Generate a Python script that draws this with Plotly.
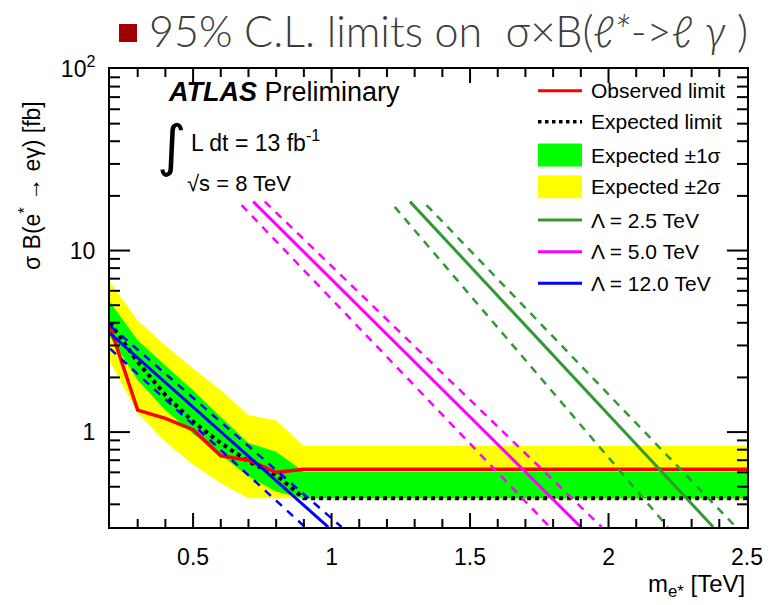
import math
import plotly.graph_objects as go

# ---------------- data ----------------
mass = [0.2, 0.3, 0.4, 0.5, 0.6, 0.7, 0.8, 0.9, 1.0, 1.5, 2.0, 2.5]
observed = [3.8, 1.32, 1.19, 1.03, 0.74, 0.70, 0.60, 0.624, 0.624, 0.624, 0.624, 0.624]
expected = [4.0, 2.43, 1.60, 1.14, 0.87, 0.69, 0.58, 0.432, 0.432, 0.432, 0.432, 0.432]
exp_1s_up = [5.2, 3.2, 2.33, 1.70, 1.21, 0.87, 0.78, 0.605, 0.605, 0.605, 0.605, 0.605]
exp_1s_dn = [3.35, 1.93, 1.32, 0.98, 0.75, 0.57, 0.47, 0.43, 0.43, 0.43, 0.43, 0.43]
exp_2s_up = [6.7, 4.12, 3.0, 2.24, 1.70, 1.24, 1.16, 0.84, 0.84, 0.84, 0.84, 0.84]
exp_2s_dn = [2.44, 1.27, 0.885, 0.66, 0.523, 0.432, 0.43, 0.428, 0.428, 0.428, 0.428, 0.428]

# theory curves: sigma*B vs mass (start / end points)
lam25_mass = [1.283, 2.378]
lam25_xs = [18.6, 0.30]
lam25_lo_mass = [1.228, 2.214]
lam25_lo_xs = [17.4, 0.30]
lam25_hi_mass = [1.343, 2.46]
lam25_hi_xs = [17.8, 0.30]

lam50_mass = [0.717, 1.90]
lam50_xs = [18.6, 0.30]
lam50_lo_mass = [0.675, 1.788]
lam50_lo_xs = [17.8, 0.30]
lam50_hi_mass = [0.759, 1.975]
lam50_hi_xs = [18.6, 0.30]

lam120_mass = [0.2, 0.988]
lam120_xs = [3.5, 0.30]
lam120_lo_mass = [0.2, 0.904]
lam120_lo_xs = [2.88, 0.30]
lam120_hi_mass = [0.2, 1.036]
lam120_hi_xs = [3.86, 0.30]

x_ticks = [0.5, 1, 1.5, 2, 2.5]
x_ticktext = ["0.5", "1", "1.5", "2", "2.5"]
y_ticks = [1, 10, 100]
y_ticktext = ["1", "10", "10<sup>2</sup>"]

legend_labels = ["Observed limit", "Expected limit", "Expected \u00b11\u03c3",
                 "Expected \u00b12\u03c3", "\u039b = 2.5 TeV", "\u039b = 5.0 TeV",
                 "\u039b = 12.0 TeV"]

# ---------------- style ----------------
RED = "#ff0000"
GREEN_BAND = "#00ff00"
YELLOW_BAND = "#ffff00"
DKGREEN = "#339933"
MAGENTA = "#ff00ff"
BLUE = "#0000ff"
FONT = "Liberation Sans, Arial, Helvetica, sans-serif"

W, H = 778, 605
L, R, T, B = 110, 31, 69, 78
PW, PH = W - L - R, H - T - B
XMIN, XMAX = 0.2, 2.5
YMIN, YMAX = math.log10(0.3), 2.0


def px(x):
    return (x - L) / PW


def py(y):
    return (H - B - y) / PH


fig = go.Figure()

# bands
fig.add_trace(go.Scatter(x=mass + mass[::-1], y=exp_2s_up + exp_2s_dn[::-1],
                         fill="toself", fillcolor=YELLOW_BAND, line=dict(width=0),
                         mode="lines", hoverinfo="skip"))
fig.add_trace(go.Scatter(x=mass + mass[::-1], y=exp_1s_up + exp_1s_dn[::-1],
                         fill="toself", fillcolor=GREEN_BAND, line=dict(width=0),
                         mode="lines", hoverinfo="skip"))

# expected / observed
fig.add_trace(go.Scatter(x=mass, y=expected, mode="lines",
                         line=dict(color="black", width=4, dash="4px,4px")))
fig.add_trace(go.Scatter(x=mass, y=observed, mode="lines",
                         line=dict(color=RED, width=3.5)))

# theory curves
for m, s, c, d, w in [
    (lam25_lo_mass, lam25_lo_xs, DKGREEN, "8px,7px", 2.5),
    (lam25_hi_mass, lam25_hi_xs, DKGREEN, "8px,7px", 2.5),
    (lam25_mass, lam25_xs, DKGREEN, "solid", 3),
    (lam50_lo_mass, lam50_lo_xs, MAGENTA, "8px,7px", 2.5),
    (lam50_hi_mass, lam50_hi_xs, MAGENTA, "8px,7px", 2.5),
    (lam50_mass, lam50_xs, MAGENTA, "solid", 3),
    (lam120_lo_mass, lam120_lo_xs, BLUE, "8px,7px", 2.5),
    (lam120_hi_mass, lam120_hi_xs, BLUE, "8px,7px", 2.5),
    (lam120_mass, lam120_xs, BLUE, "solid", 3),
]:
    fig.add_trace(go.Scatter(x=m, y=s, mode="lines",
                             line=dict(color=c, width=w, dash=d)))

# ---- axis tick marks (inside, on all four sides), derived from axis ranges ----
tx, ty = [], []
for i in range(3, 25):
    v = i / 10.0
    frac = (14 if i % 5 == 0 else 8) / PH * (YMAX - YMIN)
    tx += [v, v, None, v, v, None]
    ty += [10 ** YMIN, 10 ** (YMIN + frac), None, 10 ** YMAX, 10 ** (YMAX - frac), None]
for dec in (0.1, 1, 10):
    for k in range(1, 10):
        v = k * dec
        lv = math.log10(v)
        if lv <= YMIN + 1e-6 or lv >= YMAX - 1e-6:
            continue
        frac = (20 if k == 1 else 10) / PW * (XMAX - XMIN)
        tx += [XMIN, XMIN + frac, None, XMAX, XMAX - frac, None]
        ty += [v, v, None, v, v, None]
fig.add_trace(go.Scatter(x=tx, y=ty, mode="lines", hoverinfo="skip",
                         line=dict(color="black", width=2), connectgaps=False))

fig.update_layout(
    width=W, height=H,
    margin=dict(l=L, r=R, t=T, b=B),
    plot_bgcolor="white", paper_bgcolor="white",
    showlegend=False,
    font=dict(family=FONT, color="black"),
)

fig.update_xaxes(
    range=[XMIN, XMAX], tickvals=x_ticks, ticktext=x_ticktext, ticks="",
    showline=True, linewidth=2, linecolor="black", mirror=True,
    showgrid=False, zeroline=False,
    tickfont=dict(size=23, family=FONT, color="black"),
    ticklabelstandoff=8,
)
fig.update_yaxes(
    type="log", range=[YMIN, YMAX], tickvals=y_ticks, ticktext=y_ticktext, ticks="",
    showline=True, linewidth=2, linecolor="black", mirror=True,
    showgrid=False, zeroline=False,
    tickfont=dict(size=23, family=FONT, color="black"),
    ticklabelstandoff=8,
)

ann = []
shapes = []

# title
shapes.append(dict(type="rect", xref="paper", yref="paper",
                   x0=px(119), x1=px(137), y0=py(42), y1=py(24),
                   fillcolor="#a00000", line=dict(width=0)))
ann.append(dict(xref="paper", yref="paper", x=px(147), y=py(31),
                xanchor="left", yanchor="middle", showarrow=False,
                text="95% C.L. limits on  \u03c3\u00d7B(<i>\u2113*</i>->\u2113 <i>\u03b3</i> )",
                font=dict(size=43, family="Lato, Open Sans, sans-serif",
                          color="#3c3c3c", weight=300)))

# axis titles
ann.append(dict(xref="paper", yref="paper", x=px(30), y=py(186),
                xanchor="center", yanchor="middle", showarrow=False, textangle=-90,
                text="\u03c3 B(e<sup>*</sup> \u2192 e\u03b3) [fb]",
                font=dict(size=23, family=FONT)))
ann.append(dict(xref="paper", yref="paper", x=px(747), y=py(585),
                xanchor="right", yanchor="middle", showarrow=False,
                text="m<sub>e*</sub> [TeV]",
                font=dict(size=24, family=FONT)))

# ATLAS label
ann.append(dict(xref="paper", yref="paper", x=px(166), y=py(92),
                xanchor="left", yanchor="middle", showarrow=False,
                text="<b><i>ATLAS</i></b> Preliminary",
                font=dict(size=27, family=FONT)))
ann.append(dict(xref="paper", yref="paper", x=px(171), y=py(145),
                xanchor="center", yanchor="middle", showarrow=False,
                text="\u222b", font=dict(size=56, family="DejaVu Sans")))
ann.append(dict(xref="paper", yref="paper", x=px(189), y=py(141),
                xanchor="left", yanchor="middle", showarrow=False,
                text="L dt = 13 fb<sup>-1</sup>", font=dict(size=23, family=FONT)))
ann.append(dict(xref="paper", yref="paper", x=px(185), y=py(183),
                xanchor="left", yanchor="middle", showarrow=False,
                text="\u221as = 8 TeV", font=dict(size=22, family=FONT)))

# legend (drawn by hand)
leg_y = [90.7, 121.7, 155, 186.7, 220, 251.7, 283.3]
leg_style = [("line", RED, "solid"), ("line", "black", "dot"),
             ("box", GREEN_BAND, None), ("box", YELLOW_BAND, None),
             ("line", DKGREEN, "solid"), ("line", MAGENTA, "solid"),
             ("line", BLUE, "solid")]
for yy, lab, (kind, col, dsh) in zip(leg_y, legend_labels, leg_style):
    if kind == "line":
        shapes.append(dict(type="line", xref="paper", yref="paper",
                           x0=px(538), x1=px(582), y0=py(yy), y1=py(yy),
                           line=dict(color=col, width=3.5 if dsh == "dot" else 3,
                                     dash=dsh)))
    else:
        shapes.append(dict(type="rect", xref="paper", yref="paper",
                           x0=px(538), x1=px(582), y0=py(yy + 11.5), y1=py(yy - 11.5),
                           fillcolor=col, line=dict(width=0)))
    ann.append(dict(xref="paper", yref="paper", x=px(589), y=py(yy),
                    xanchor="left", yanchor="middle", showarrow=False,
                    text=lab, font=dict(size=21, family=FONT)))

fig.update_layout(annotations=ann, shapes=shapes)
fig.write_html("out.html")
